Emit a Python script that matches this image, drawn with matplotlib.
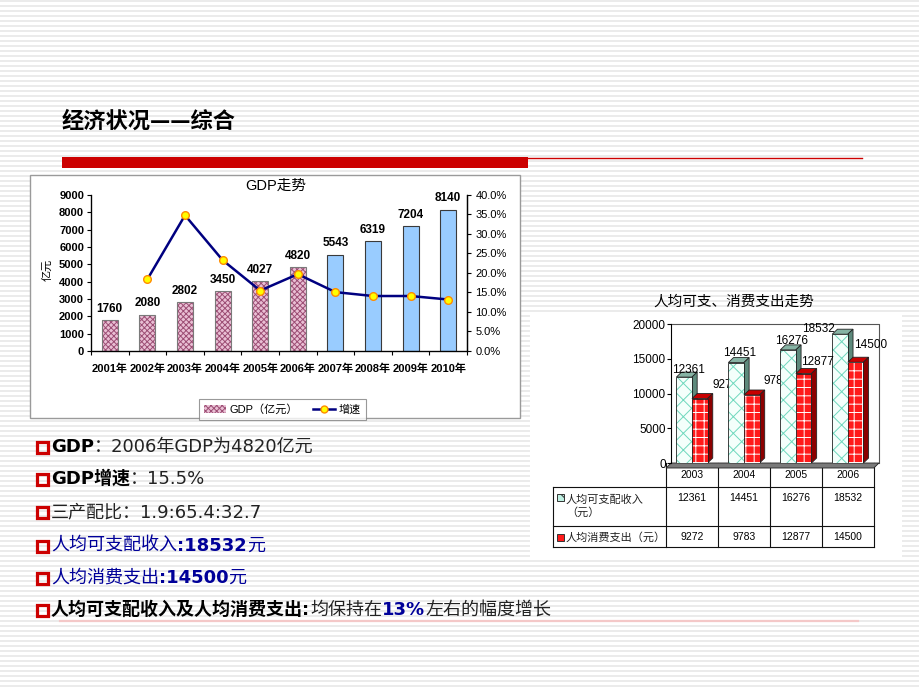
import numpy as np
import matplotlib
matplotlib.use("Agg")
import matplotlib.pyplot as plt
from matplotlib.patches import Rectangle, Polygon, Patch
from matplotlib.lines import Line2D

# ---------------- data ----------------
gdp_years = ['2001年', '2002年', '2003年', '2004年', '2005年', '2006年',
             '2007年', '2008年', '2009年', '2010年']
gdp_values = [1760, 2080, 2802, 3450, 4027, 4820, 5543, 6319, 7204, 8140]
gdp_growth = [np.nan, 18.4, 34.8, 23.3, 15.5, 19.7, 15.1, 14.1, 14.1, 13.2]
n_actual = 6  # 2001-2006 actual (pink), 2007-2010 forecast (blue)

inc_years = ['2003', '2004', '2005', '2006']
income = [12361, 14451, 16276, 18532]
spending = [9272, 9783, 12877, 14500]

title_main = '经济状况——综合'
gdp_title = 'GDP走势'
gdp_unit = '亿元'
legend_labels = ['GDP（亿元）', '增速']
inc_title = '人均可支、消费支出走势'
row_labels = ['人均可支配收入\n（元）', '人均消费支出（元）']

bullets = [
    [('GDP', 'kb'), ('：2006年GDP为4820亿元', 'kn')],
    [('GDP增速', 'kb'), ('：15.5%', 'kn')],
    [('三产配比：1.9:65.4:32.7', 'kn')],
    [('人均可支配收入', 'bn'), (':18532', 'bb'), ('元', 'bn')],
    [('人均消费支出', 'bn'), (':14500', 'bb'), ('元', 'bn')],
    [('人均可支配收入及人均消费支出:', 'kb'), ('均保持在', 'kn'), ('13%', 'bb'), ('左右的幅度增长', 'kn')],
]

# ---------------- style ----------------
CJK = 'Noto Sans CJK SC'
plt.rcParams['font.family'] = ['Liberation Sans', CJK, 'DejaVu Sans']
plt.rcParams['hatch.linewidth'] = 0.7

W, H = 920, 690
fig = plt.figure(figsize=(W / 100, H / 100), dpi=100)
fig.patch.set_facecolor('white')

bg = fig.add_axes([0, 0, 1, 1], zorder=0)
bg.set_xlim(0, W)
bg.set_ylim(H, 0)
bg.axis('off')

# striped slide background
for y in np.arange(1.0, H, 5.0):
    bg.plot([0, W], [y, y], color='#e6e6e6', lw=1.1, zorder=0, solid_capstyle='butt')

# title + red rule
bg.text(62, 121, title_main, fontsize=16, fontweight='bold', family=[CJK],
        va='center', ha='left', color='black', zorder=5)
bg.add_patch(Rectangle((62, 157), 466, 11, fc='#cc0000', ec='none', zorder=5))
bg.plot([528, 862], [157.5, 157.5], color='#cc0000', lw=1.0, zorder=5)

# chart boxes
bg.add_patch(Rectangle((30, 175), 490, 243, fc='white', ec='#9a9a9a', lw=1.0, zorder=2))
bg.add_patch(Rectangle((530, 312), 372, 246, fc='white', ec='none', zorder=2))

# ---------------- GDP chart ----------------
ax = fig.add_axes([91 / W, 1 - 351 / H, 376 / W, 156 / H], zorder=3)
ax.patch.set_alpha(0)
x = np.arange(len(gdp_years))
pink_face, pink_hatch = '#e9bfd4', '#9c4d74'
ax.bar(x[:n_actual], gdp_values[:n_actual], 0.43, facecolor=pink_face,
       edgecolor=pink_hatch, hatch='xxxxxx', linewidth=0, zorder=2)
ax.bar(x[:n_actual], gdp_values[:n_actual], 0.43, fill=False,
       edgecolor='#7a7a7a', linewidth=0.8, zorder=2.1)
ax.bar(x[n_actual:], gdp_values[n_actual:], 0.43, facecolor='#99ccff',
       edgecolor='#3a3a3a', linewidth=0.8, zorder=2)
for xi, v in zip(x, gdp_values):
    ax.annotate(f'{v}', (xi, v), xytext=(0, 4), textcoords='offset points',
                ha='center', va='bottom', fontsize=8.5, fontweight='bold')
ax.set_xlim(-0.5, len(x) - 0.5)
ax.set_ylim(0, 9000)
ax.set_yticks(np.arange(0, 9001, 1000))
ax.tick_params(axis='y', direction='out', length=3, pad=2, labelsize=8)
for lab in ax.get_yticklabels():
    lab.set_fontweight('bold')
ax.set_xticks(np.arange(-0.5, len(x), 1.0))
ax.set_xticklabels([])
ax.set_xticks(x, minor=True)
ax.set_xticklabels(gdp_years, minor=True, fontsize=8, fontweight='bold')
ax.tick_params(axis='x', which='major', direction='out', length=3)
ax.tick_params(axis='x', which='minor', length=0, pad=9)
ax.spines['top'].set_visible(False)
for s in ['left', 'bottom', 'right']:
    ax.spines[s].set_linewidth(0.9)

ax2 = ax.twinx()
ax2.set_zorder(4)
ax2.patch.set_alpha(0)
ax2.plot(x, gdp_growth, color='#000080', lw=1.8, marker='o', ms=5.5,
         mfc='#ffff00', mec='#ff8c00', mew=1.0, zorder=5)
ax2.set_ylim(0, 40)
pct_ticks = np.arange(0, 40.1, 5)
ax2.set_yticks(pct_ticks)
ax2.set_yticklabels([f'{t:.1f}%' for t in pct_ticks])
ax2.tick_params(axis='y', direction='out', length=3, pad=3, labelsize=8)
ax2.spines['top'].set_visible(False)
ax2.spines['right'].set_linewidth(0.9)

bg.text(276, 186, gdp_title, fontsize=10.5, ha='center', va='center', zorder=5)
bg.text(47, 270, gdp_unit, fontsize=8, rotation=90, ha='center', va='center', zorder=5)

handles = [Patch(facecolor=pink_face, edgecolor=pink_hatch, hatch='xxxxxx', lw=0),
           Line2D([], [], color='#000080', lw=1.8, marker='o', ms=5,
                  mfc='#ffff00', mec='#ff8c00')]
leg = ax.legend(handles, legend_labels, ncol=2, loc='upper left',
                bbox_to_anchor=(193 / W, 1 - 393 / H), bbox_transform=fig.transFigure,
                fontsize=8, frameon=True, fancybox=False, edgecolor='#808080',
                handlelength=2.0, handleheight=0.8, columnspacing=1.3,
                borderpad=0.5, handletextpad=0.3)
leg.get_frame().set_linewidth(0.8)
leg.set_zorder(10)

# ---------------- per-capita 3D chart ----------------
DX, DY = 0.1, 720
axr = fig.add_axes([666 / W, 1 - 463 / H, 213 / W, 139 / H], zorder=3)
axr.patch.set_alpha(0)
xc = np.arange(len(inc_years))
axr.set_xlim(-0.5, len(xc) - 0.5 + DX)
axr.set_ylim(0, 20000)
axr.set_yticks(np.arange(0, 20001, 5000))
axr.set_xticks([])
for s in ['top', 'right', 'bottom']:
    axr.spines[s].set_visible(False)
axr.spines['left'].set_position(('data', -0.5 + DX))
axr.spines['left'].set_linewidth(0.8)
axr.tick_params(axis='y', direction='out', length=3, pad=1, labelsize=8.5)

x0w, x1w = -0.5 + DX, len(xc) - 0.5 + DX
axr.plot([x0w, x1w, x1w], [20000, 20000, 0], color='#555555', lw=0.8, zorder=1, clip_on=False)
axr.add_patch(Polygon([(-0.5, -DY), (len(xc) - 0.5, -DY), (x1w, 0), (x0w, 0)],
                      closed=True, fc='#7a7a7a', ec='#222222', lw=0.6, zorder=1, clip_on=False))


def bar3d(xs, vals, face, hatch_c, hatch, top_c, side_c, z):
    bars = axr.bar(xs, vals, 0.3, facecolor=face, edgecolor=hatch_c, hatch=hatch,
                   linewidth=0, zorder=z)
    axr.bar(xs, vals, 0.3, fill=False, edgecolor='#222222', linewidth=0.6, zorder=z + 0.01)
    for b in bars:
        bx, bw, bh = b.get_x(), b.get_width(), b.get_height()
        axr.add_patch(Polygon([(bx, bh), (bx + bw, bh), (bx + bw + DX, bh + DY), (bx + DX, bh + DY)],
                              closed=True, fc=top_c, ec='#222222', lw=0.6, zorder=z - 0.5, clip_on=False))
        axr.add_patch(Polygon([(bx + bw, 0), (bx + bw + DX, DY), (bx + bw + DX, bh + DY), (bx + bw, bh)],
                              closed=True, fc=side_c, ec='#222222', lw=0.6, zorder=z - 0.5, clip_on=False))


bar3d(xc - 0.15, income, '#f4fffb', '#6fd8bd', 'xx', '#86b3a4', '#5d8a7c', 3)
bar3d(xc + 0.15, spending, '#ff1a1a', '#ffffff', '++', '#c80000', '#8c0000', 4)

inc_lab_dx = [-0.06, -0.09, -0.08, -0.57]
inc_lab_dy = [1050, 1380, 1280, 760]
sp_lab_dx = [0.39, 0.37, 0.10, 0.12]
sp_lab_dy = [1950, 2000, 1650, 2480]
for i, v in enumerate(income):
    axr.text(xc[i] + inc_lab_dx[i], v + inc_lab_dy[i], f'{v}', ha='center', va='center',
             fontsize=8.5, zorder=6, clip_on=False)
for i, v in enumerate(spending):
    axr.text(xc[i] + sp_lab_dx[i], v + sp_lab_dy[i], f'{v}', ha='left', va='center',
             fontsize=8.5, zorder=(2.8 if i < 2 else 6), clip_on=False)

bg.text(734, 302, inc_title, fontsize=10.5, ha='center', va='center', zorder=5, family=[CJK])

# data table under the 3D chart
cols = [666 + 52 * i for i in range(len(inc_years) + 1)]
tl = 553
y_head, y_r1, y_r2, y_bot = 463, 487, 526, 547
tcol = '#111111'
for cx in cols:
    bg.plot([cx, cx], [y_head, y_bot], color=tcol, lw=0.8, zorder=5)
bg.plot([tl, tl], [y_r1, y_bot], color=tcol, lw=0.8, zorder=5)
for yy in [y_r1, y_r2, y_bot]:
    bg.plot([tl, cols[-1]], [yy, yy], color=tcol, lw=0.8, zorder=5)
for i, yr in enumerate(inc_years):
    cx = (cols[i] + cols[i + 1]) / 2
    bg.text(cx, 475, yr, fontsize=7.5, ha='center', va='center', zorder=6)
    bg.text(cx, 498, f'{income[i]}', fontsize=7.5, ha='center', va='center', zorder=6)
    bg.text(cx, 537, f'{spending[i]}', fontsize=7.5, ha='center', va='center', zorder=6)
bg.add_patch(Rectangle((557, 494), 7, 7, fc='#bff0e2', ec='#333333', hatch='xx', lw=0.7, zorder=6))
bg.add_patch(Rectangle((557, 534), 7, 7, fc='#ff1a1a', ec='#333333', lw=0.7, zorder=6))
bg.text(566, 506, row_labels[0], fontsize=8, ha='left', va='center', zorder=6,
        family=[CJK], linespacing=1.3, color='#222222')
bg.text(566, 537, row_labels[1], fontsize=8, ha='left', va='center', zorder=6,
        family=[CJK], color='#222222')

# ---------------- bullet text ----------------
styles = {
    'kb': dict(color='#000000', fontweight='bold'),
    'kn': dict(color='#222222', fontweight='normal'),
    'bn': dict(color='#000099', fontweight='normal'),
    'bb': dict(color='#000099', fontweight='bold'),
}
renderer = fig.canvas.get_renderer()
line_y = [447, 479, 512, 546, 578, 610]
for yy, parts in zip(line_y, bullets):
    bg.add_patch(Rectangle((37, yy - 5), 11, 11, fc='none', ec='#cc0000', lw=2.3, zorder=6))
    xx = 51
    for s, key in parts:
        t = bg.text(xx, yy, s, fontsize=13, ha='left', va='center', zorder=6,
                    family=['DejaVu Sans', CJK], **styles[key])
        bb = t.get_window_extent(renderer=renderer)
        xx += bb.width
bg.plot([60, 858], [621, 621], color='#f4c8c8', lw=1.6, zorder=5)

fig.savefig('out.png', dpi=100, facecolor='white')
